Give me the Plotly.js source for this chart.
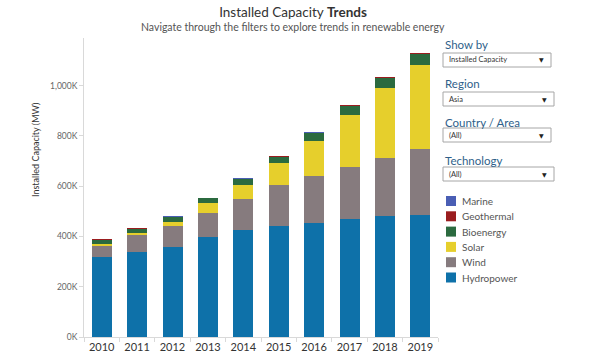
<!DOCTYPE html>
<html>
<head>
<meta charset="utf-8">
<script src="https://cdn.plot.ly/plotly-3.0.1.min.js"></script>
<style>html,body{margin:0;padding:0;background:#fff;}#chart{width:600px;height:360px;}</style>
</head>
<body>
<div id="chart"></div>
<script>
// Data (thousand MW)
const years = ['2010','2011','2012','2013','2014','2015','2016','2017','2018','2019'];
const hydropower = [319, 337, 359, 396, 424, 443, 454, 469, 481, 486];
const wind       = [43, 67, 82, 98, 125, 162, 186, 207, 231, 260];
const solar      = [8, 8, 17, 38, 55, 87, 140, 208, 277, 335];
const bioenergy  = [16, 18, 18, 19, 23, 25, 30, 35, 40, 43];
const geothermal = [3, 3, 3, 3, 3, 3, 3, 3, 4, 4];
const marine     = [0.5, 0.5, 0.5, 0.5, 0.5, 0.5, 0.5, 0.5, 0.5, 0.5];

const seriesNames = ['Hydropower', 'Wind', 'Solar', 'Bioenergy', 'Geothermal', 'Marine'];
const seriesValues = [hydropower, wind, solar, bioenergy, geothermal, marine];
const seriesColors = ['#0e71a9', '#867b7e', '#e6cf2c', '#2b6a3f', '#9a1d1f', '#4a5eb4'];

const yTicks = [0, 200, 400, 600, 800, 1000];
const yTickText = yTicks.map(v => v.toLocaleString('en-US') + 'K');

const filterLabels = ['Show by', 'Region', 'Country / Area', 'Technology'];
const filterValues = ['Installed Capacity', 'Asia', '(All)', '(All)'];

// geometry helpers (pixel -> paper)
const L = 84, R = 438, T = 38, B = 337;
const W = 600, H = 360;
const px = x => (x - L) / (R - L);
const py = y => (B - y) / (B - T);

const traces = seriesNames.map((n, i) => ({
  type: 'bar', name: n, x: years, y: seriesValues[i],
  marker: {color: seriesColors[i], line: {width: 0}},
  hoverinfo: 'x+y+name', showlegend: false
}));

const shapes = [];
const annotations = [];

// subtitle
annotations.push({xref: 'paper', yref: 'paper', x: px(293), y: py(27), xanchor: 'center', yanchor: 'middle',
  text: 'Navigate through the filters to explore trends in renewable energy', showarrow: false,
  font: {family: 'Lato, sans-serif', size: 10.5, color: '#555'}});

// y-axis title
annotations.push({xref: 'paper', yref: 'paper', x: px(35), y: py(150), xanchor: 'center', yanchor: 'middle',
  text: 'Installed Capacity (MW)', textangle: -90, showarrow: false,
  font: {family: 'Lato, sans-serif', size: 9, color: '#333'}});

// filters
const labelY = [45, 83, 122, 160];
const boxTop = [53, 92, 128, 167];
const boxRight = [551, 554, 551, 554];
filterLabels.forEach((lab, i) => {
  annotations.push({xref: 'paper', yref: 'paper', x: px(443), y: py(labelY[i]), xanchor: 'left', yanchor: 'middle',
    text: lab, showarrow: false, font: {family: 'Lato, sans-serif', size: 11.5, color: '#2f5f8a'}});
  shapes.push({type: 'rect', xref: 'paper', yref: 'paper', x0: px(443), x1: px(boxRight[i]),
    y0: py(boxTop[i]), y1: py(boxTop[i] + 14), line: {color: '#a6a6a6', width: 1}, fillcolor: '#fff'});
  annotations.push({xref: 'paper', yref: 'paper', x: px(447), y: py(boxTop[i] + 7), xanchor: 'left', yanchor: 'middle',
    text: filterValues[i], showarrow: false, font: {family: 'Lato, sans-serif', size: 7.5, color: '#333'}});
  annotations.push({xref: 'paper', yref: 'paper', x: px(boxRight[i] - 10), y: py(boxTop[i] + 7), xanchor: 'center', yanchor: 'middle',
    text: '▼', showarrow: false, font: {family: 'DejaVu Sans, sans-serif', size: 6, color: '#222'}});
});

// custom legend (reverse order: Marine on top)
const legY0 = 201, legStep = 15.3;
for (let k = 0; k < seriesNames.length; k++) {
  const i = seriesNames.length - 1 - k;
  const cy = legY0 + k * legStep;
  shapes.push({type: 'rect', xref: 'paper', yref: 'paper', x0: px(446), x1: px(456), y0: py(cy - 5), y1: py(cy + 5),
    line: {width: 0}, fillcolor: seriesColors[i]});
  annotations.push({xref: 'paper', yref: 'paper', x: px(460), y: py(cy), xanchor: 'left', yanchor: 'middle',
    text: seriesNames[i], showarrow: false, font: {family: 'Lato, sans-serif', size: 10, color: '#555'}});
}

const layout = {
  width: W, height: H,
  margin: {l: L, r: W - R, t: T, b: H - B, pad: 0},
  paper_bgcolor: '#fff', plot_bgcolor: '#fff',
  barmode: 'stack', bargap: 0.435,
  showlegend: false,
  title: {text: 'Installed Capacity <b>Trends</b>', xref: 'container', yref: 'container',
    x: 293 / W, xanchor: 'center', y: 1 - 12.5 / H, yanchor: 'middle',
    font: {family: 'Lato, sans-serif', size: 13.5, color: '#333'}},
  xaxis: {type: 'category', showgrid: false, zeroline: false, showline: true, linecolor: '#d9d9d9', linewidth: 1,
    ticks: 'outside', tickson: 'boundaries', ticklen: 4, tickcolor: '#d9d9d9',
    tickfont: {family: 'Lato, sans-serif', size: 11, color: '#333'}, fixedrange: true},
  yaxis: {range: [0, 1189], tickmode: 'array', tickvals: yTicks, ticktext: yTickText, showgrid: false, zeroline: false,
    showline: true, linecolor: '#d9d9d9', linewidth: 1, ticks: 'outside', ticklen: 4, tickcolor: '#d9d9d9',
    tickfont: {family: 'Lato, sans-serif', size: 8.5, color: '#666'}, fixedrange: true},
  shapes: shapes, annotations: annotations
};

Plotly.newPlot('chart', traces, layout, {displayModeBar: false, staticPlot: true});
</script>
</body>
</html>
